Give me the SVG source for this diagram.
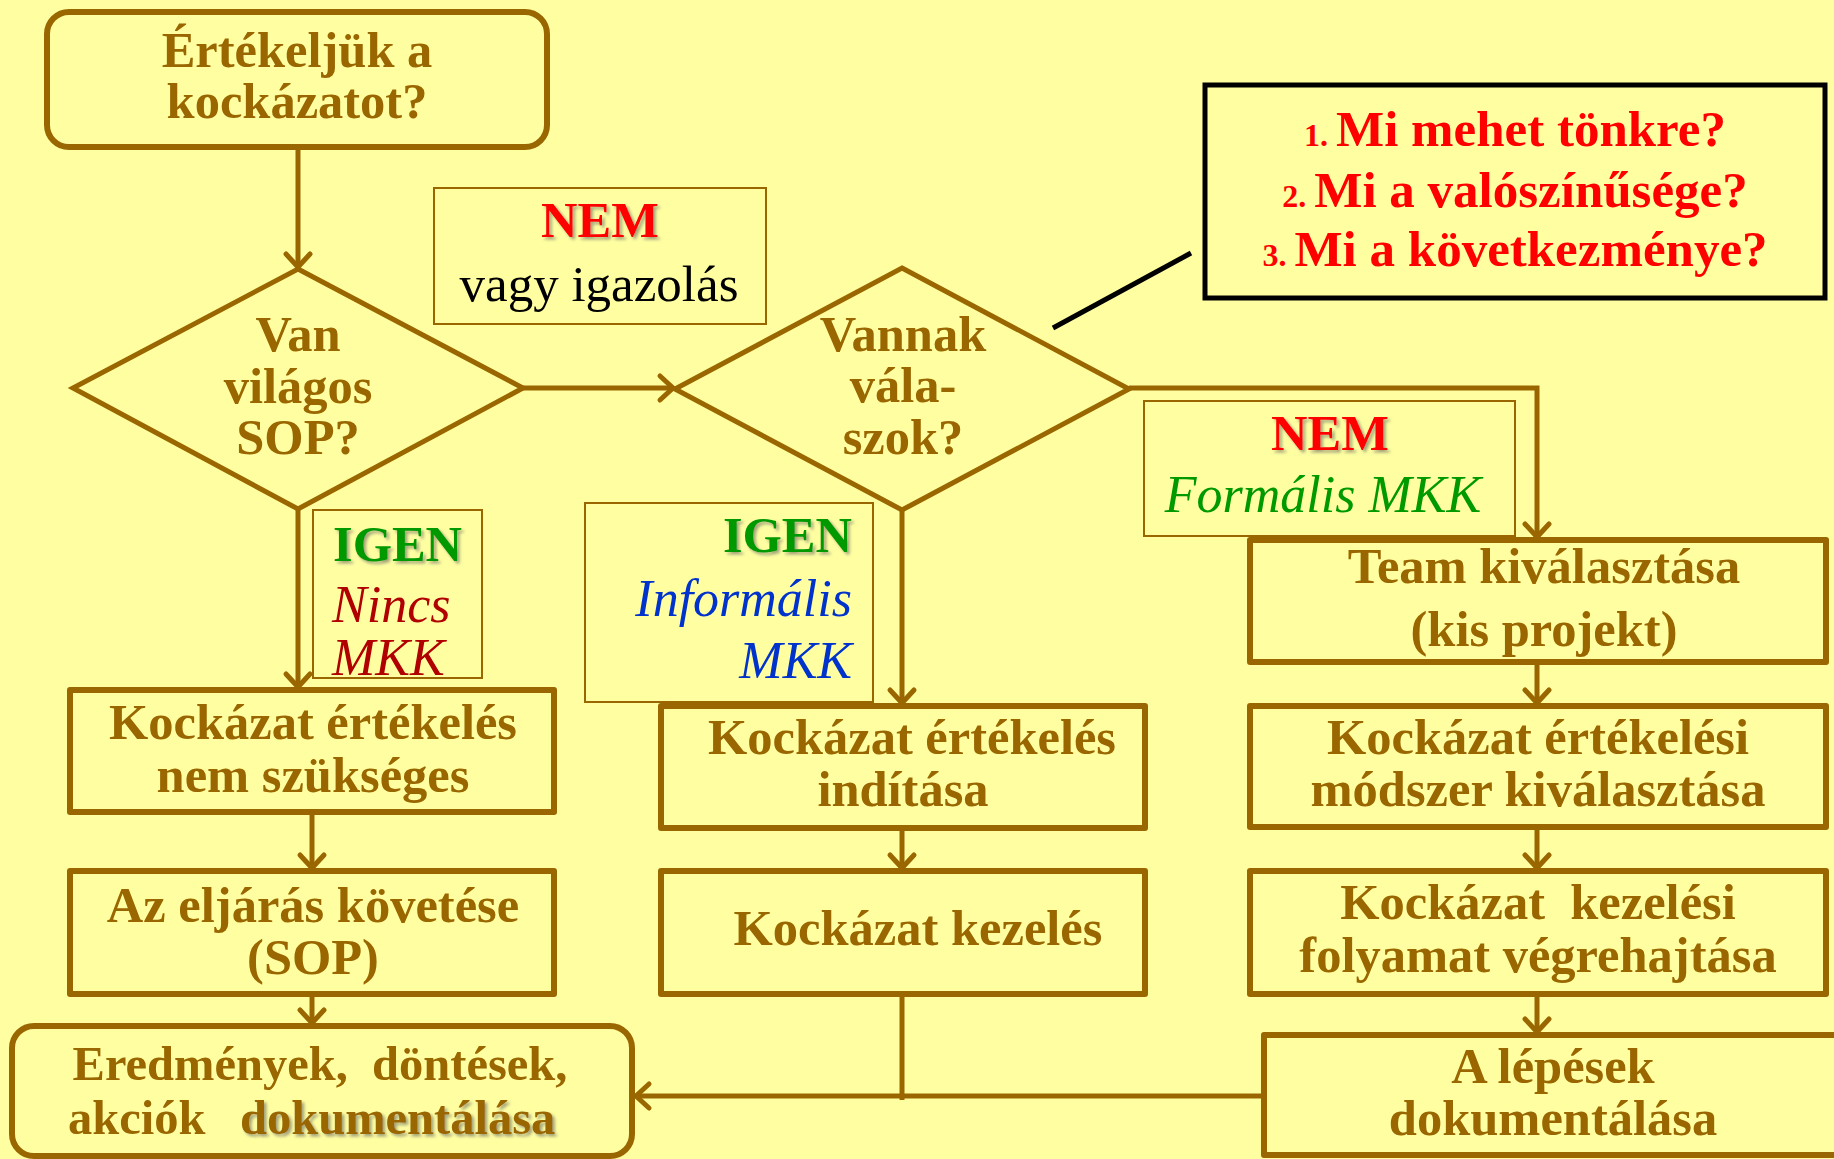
<svg xmlns="http://www.w3.org/2000/svg" width="1834" height="1159" viewBox="0 0 1834 1159">
  <defs>
    <style>
      .box { fill: none; stroke: #996600; stroke-width: 6; stroke-linejoin: round; }
      .dia { fill: none; stroke: #996600; stroke-width: 5; stroke-linejoin: miter; }
      .lbl { fill: none; stroke: #996600; stroke-width: 2; }
      .con { fill: none; stroke: #996600; stroke-width: 5; }
      .t { font-family: "Liberation Serif", "DejaVu Serif", serif; font-size: 50.5px; font-weight: bold; fill: #996600; text-anchor: middle; }
      .sm { font-size: 48.5px; }
      .s { text-anchor: start; }
      .e { text-anchor: end; }
      .red { fill: #FF0000; }
      .grn { fill: #009900; }
      .it { font-family: "Liberation Serif", "DejaVu Serif", serif; font-size: 52px; font-style: italic; }
      .reg { font-family: "Liberation Serif", "DejaVu Serif", serif; font-size: 51px; fill: #000000; text-anchor: middle; }
      .q { font-family: "Liberation Serif", "DejaVu Serif", serif; font-size: 51px; font-weight: bold; fill: #FF0000; text-anchor: middle; }
      .num { font-size: 32px; }
    </style>
    <filter id="shadow" x="-10%" y="-20%" width="130%" height="150%">
      <feDropShadow dx="2.5" dy="2.5" stdDeviation="1.5" flood-color="#555555" flood-opacity="0.55"/>
    </filter>
    <marker id="arrow" markerUnits="userSpaceOnUse" markerWidth="30" markerHeight="30" viewBox="0 0 30 30" refX="26" refY="15" orient="auto" overflow="visible">
      <path d="M13,3 L26,15 L13,27" fill="none" stroke="#996600" stroke-width="5" stroke-linecap="round" stroke-linejoin="miter"/>
    </marker>
  </defs>

  <rect width="1834" height="1159" fill="#FFFFA2"/>

  <!-- connectors -->
  <g id="connectors">
    <line class="con" x1="298" y1="150" x2="298" y2="267" marker-end="url(#arrow)"/>
    <line class="con" x1="523" y1="388" x2="673" y2="388" marker-end="url(#arrow)"/>
    <polyline class="con" points="1129,388 1537,388 1537,537" marker-end="url(#arrow)"/>
    <line class="con" x1="298" y1="509" x2="298" y2="687" marker-end="url(#arrow)"/>
    <line class="con" x1="312" y1="815" x2="312" y2="868" marker-end="url(#arrow)"/>
    <line class="con" x1="312" y1="997" x2="312" y2="1023" marker-end="url(#arrow)"/>
    <line class="con" x1="902" y1="510" x2="902" y2="703" marker-end="url(#arrow)"/>
    <line class="con" x1="902" y1="831" x2="902" y2="868" marker-end="url(#arrow)"/>
    <line class="con" x1="1537" y1="665" x2="1537" y2="703" marker-end="url(#arrow)"/>
    <line class="con" x1="1537" y1="830" x2="1537" y2="868" marker-end="url(#arrow)"/>
    <line class="con" x1="1537" y1="997" x2="1537" y2="1032" marker-end="url(#arrow)"/>
    <line class="con" x1="902" y1="997" x2="902" y2="1100"/>
    <line class="con" x1="1262" y1="1096" x2="636" y2="1096" marker-end="url(#arrow)"/>
    <line x1="1053" y1="328" x2="1191" y2="253" stroke="#000000" stroke-width="5"/>
  </g>

  <!-- start -->
  <g id="start">
    <rect class="box" x="47" y="12" width="500" height="135" rx="22"/>
    <text class="t" x="297" y="67">Értékeljük a</text>
    <text class="t" x="297" y="118">kockázatot?</text>
  </g>

  <!-- decision: SOP -->
  <g id="decision-sop">
    <polygon class="dia" points="298,269 523,388 298,509 73,388"/>
    <text class="t" x="298" y="351">Van</text>
    <text class="t" x="298" y="403">világos</text>
    <text class="t" x="298" y="454">SOP?</text>
  </g>

  <!-- decision: answers -->
  <g id="decision-answers">
    <polygon class="dia" points="902,268 1129,389 902,510 675,389"/>
    <text class="t" x="903" y="351">Vannak</text>
    <text class="t" x="903" y="402">vála-</text>
    <text class="t" x="903" y="454">szok?</text>
  </g>

  <!-- label: NEM vagy igazolás -->
  <g id="label-nem-igazolas">
    <rect class="lbl" x="434" y="188" width="332" height="136"/>
    <text class="t red" x="600" y="237" filter="url(#shadow)">NEM</text>
    <text class="reg" x="599" y="301">vagy igazolás</text>
  </g>

  <!-- questions callout -->
  <g id="questions">
    <rect x="1205" y="85" width="620" height="213" fill="none" stroke="#000000" stroke-width="5"/>
    <text class="q" x="1515" y="146"><tspan class="num">1. </tspan>Mi mehet tönkre?</text>
    <text class="q" x="1515" y="207"><tspan class="num">2. </tspan>Mi a valószínűsége?</text>
    <text class="q" x="1515" y="266"><tspan class="num">3. </tspan>Mi a következménye?</text>
  </g>

  <!-- label: NEM Formális MKK -->
  <g id="label-nem-formalis">
    <rect class="lbl" x="1144" y="401" width="371" height="135"/>
    <text class="t red" x="1330" y="450" filter="url(#shadow)">NEM</text>
    <text class="it grn" x="1323" y="512" text-anchor="middle">Formális MKK</text>
  </g>

  <!-- label: IGEN Nincs MKK -->
  <g id="label-igen-nincs">
    <rect class="lbl" x="313" y="510" width="169" height="168"/>
    <text class="t s grn" x="333" y="561" filter="url(#shadow)">IGEN</text>
    <text class="it" x="332" y="622" fill="#B00000">Nincs</text>
    <text class="it" x="332" y="675" fill="#B00000">MKK</text>
  </g>

  <!-- label: IGEN Informális MKK -->
  <g id="label-igen-informalis">
    <rect class="lbl" x="585" y="503" width="288" height="199"/>
    <text class="t e grn" x="852" y="552" filter="url(#shadow)">IGEN</text>
    <text class="it" x="852" y="616" fill="#0033CC" text-anchor="end">Informális</text>
    <text class="it" x="852" y="678" fill="#0033CC" text-anchor="end">MKK</text>
  </g>

  <!-- left column -->
  <g id="no-assessment">
    <rect class="box" x="70" y="690" width="484" height="122"/>
    <text class="t" x="313" y="739">Kockázat értékelés</text>
    <text class="t" x="313" y="792">nem szükséges</text>
  </g>
  <g id="follow-sop">
    <rect class="box" x="70" y="871" width="484" height="123"/>
    <text class="t" x="313" y="922">Az eljárás követése</text>
    <text class="t" x="313" y="974">(SOP)</text>
  </g>
  <g id="documentation">
    <rect class="box" x="12" y="1026" width="620" height="130" rx="22"/>
    <text class="t sm" x="320" y="1080" style="white-space:pre">Eredmények,  döntések,</text>
    <text class="t sm s" x="68" y="1134">akciók</text>
    <text class="t sm s" x="240" y="1134" filter="url(#shadow)">dokumentálása</text>
  </g>

  <!-- middle column -->
  <g id="start-assessment">
    <rect class="box" x="661" y="706" width="484" height="122"/>
    <text class="t" x="912" y="754">Kockázat értékelés</text>
    <text class="t" x="903" y="806">indítása</text>
  </g>
  <g id="risk-handling">
    <rect class="box" x="661" y="871" width="484" height="123"/>
    <text class="t" x="918" y="945">Kockázat kezelés</text>
  </g>

  <!-- right column -->
  <g id="team">
    <rect class="box" x="1250" y="540" width="576" height="122"/>
    <text class="t" x="1544" y="583">Team kiválasztása</text>
    <text class="t" x="1544" y="646">(kis projekt)</text>
  </g>
  <g id="method">
    <rect class="box" x="1250" y="706" width="576" height="121"/>
    <text class="t" x="1538" y="754">Kockázat értékelési</text>
    <text class="t" x="1538" y="806">módszer kiválasztása</text>
  </g>
  <g id="process">
    <rect class="box" x="1250" y="871" width="576" height="123"/>
    <text class="t" x="1538" y="919" style="white-space:pre">Kockázat  kezelési</text>
    <text class="t" x="1538" y="972">folyamat végrehajtása</text>
  </g>
  <g id="steps-doc">
    <rect class="box" x="1264" y="1035" width="600" height="120"/>
    <text class="t" x="1553" y="1083">A lépések</text>
    <text class="t" x="1553" y="1135">dokumentálása</text>
  </g>
</svg>
